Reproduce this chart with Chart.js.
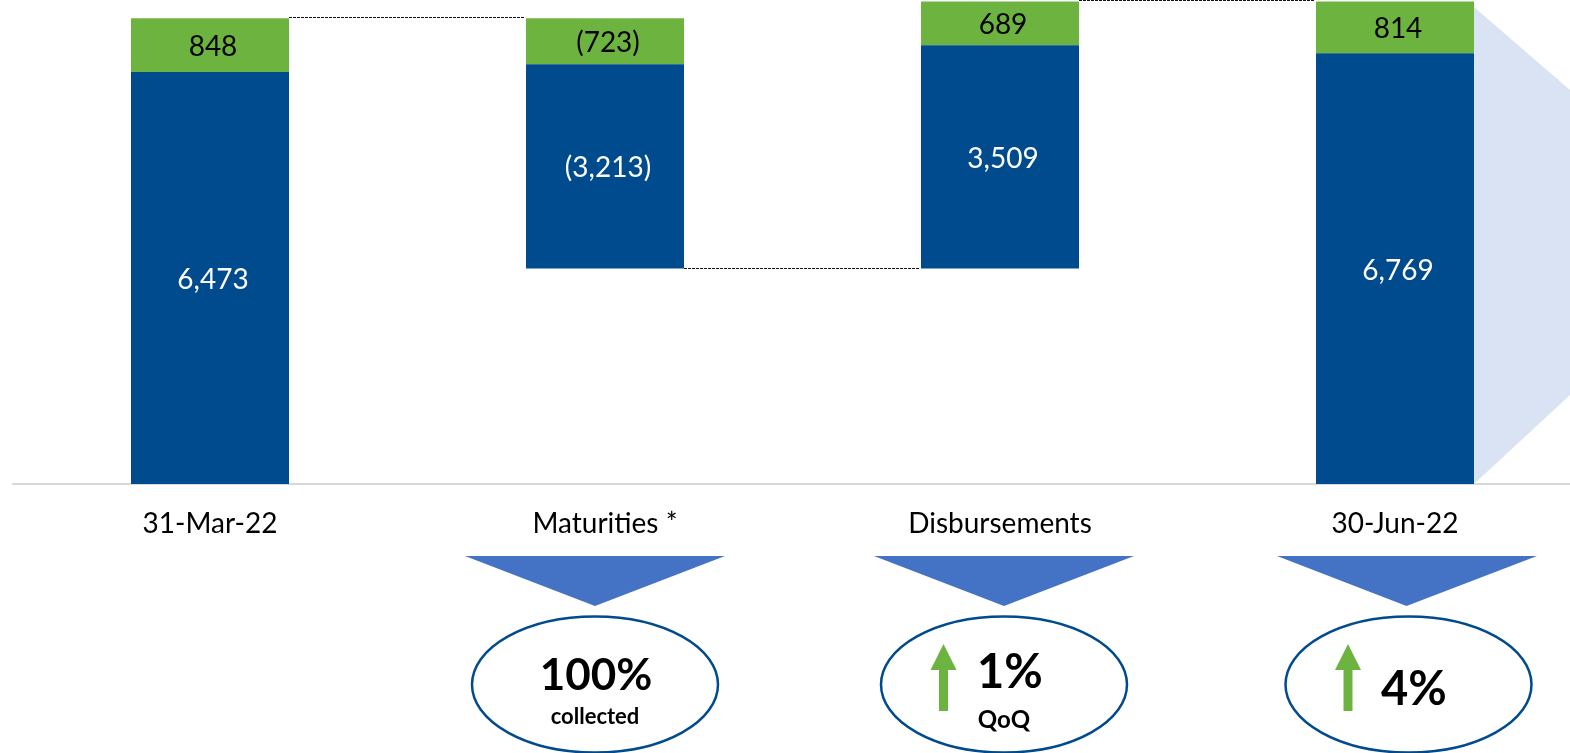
<!DOCTYPE html>
<html>
<head>
<meta charset="utf-8">
<script src="https://cdn.jsdelivr.net/npm/chart.js@4"></script>
<style>
html,body{margin:0;padding:0;background:#fff;overflow:hidden;width:1570px;height:753px}
#wrap{position:absolute;left:0;top:0;width:1600px;height:753px}
</style>
</head>
<body>
<div id="wrap"><canvas id="c" width="1600" height="753"></canvas></div>
<script>
const categories = ['31-Mar-22', 'Maturities *', 'Disbursements', '30-Jun-22'];
const blueValues = [6473, -3213, 3509, 6769];
const greenValues = [848, -723, 689, 814];
const isBalance = [true, false, false, true];

const FONT = 'Lato, Carlito, sans-serif';
const BLUE = '#004b8d', GREEN = '#6db33f';

const blueBars = [], greenBars = [];
let running = 0;
categories.forEach((_, i) => {
  const b = blueValues[i], g = greenValues[i];
  const change = b + g;
  const lo = isBalance[i] ? 0 : Math.min(running, running + change);
  const mid = lo + Math.abs(b);
  blueBars.push([lo, mid]);
  greenBars.push([mid, mid + Math.abs(g)]);
  running = isBalance[i] ? change : running + change;
});

const fmt = v => {
  const s = Math.abs(v).toLocaleString('en-US');
  return v < 0 ? '(' + s + ')' : s;
};

const overlay = {
  id: 'overlay',
  beforeDatasetsDraw(chart) {
    const ctx = chart.ctx, y = chart.scales.y;
    const last = chart.getDatasetMeta(0).data[3];
    const right = last.x + last.width / 2;
    ctx.save();
    ctx.fillStyle = '#dae3f3';
    ctx.beginPath();
    ctx.moveTo(right, 7);
    ctx.lineTo(1570, 90);
    ctx.lineTo(1570, 395);
    ctx.lineTo(right, y.getPixelForValue(0));
    ctx.closePath();
    ctx.fill();
    ctx.restore();
  },
  afterDatasetsDraw(chart) {
    const ctx = chart.ctx, y = chart.scales.y;
    const mb = chart.getDatasetMeta(0).data, mg = chart.getDatasetMeta(1).data;
    ctx.save();

    // connectors between bars
    ctx.strokeStyle = '#111';
    ctx.lineWidth = 1;
    ctx.setLineDash([3, 1]);
    const levels = [greenBars[0][1], blueBars[1][0], greenBars[2][1]];
    levels.forEach((lv, i) => {
      const py = Math.round(y.getPixelForValue(lv)) - 0.5;
      ctx.beginPath();
      ctx.moveTo(mb[i].x + mb[i].width / 2, py);
      ctx.lineTo(mb[i + 1].x - mb[i + 1].width / 2 - 2, py);
      ctx.stroke();
    });
    ctx.setLineDash([]);

    // value labels
    ctx.textAlign = 'center';
    ctx.textBaseline = 'middle';
    ctx.font = '28px ' + FONT;
    categories.forEach((_, i) => {
      ctx.fillStyle = '#fff';
      ctx.fillText(fmt(blueValues[i]), mb[i].x + 3, (y.getPixelForValue(blueBars[i][0]) + y.getPixelForValue(blueBars[i][1])) / 2 + 2);
      ctx.fillStyle = '#000';
      ctx.fillText(fmt(greenValues[i]), mg[i].x + 3, (y.getPixelForValue(greenBars[i][0]) + y.getPixelForValue(greenBars[i][1])) / 2 + 2);
    });

    // callouts
    const callouts = [
      {tx: 465, ax: 595, ex: 595, arrow: null},
      {tx: 874, ax: 1004, ex: 1004, arrow: 943.5},
      {tx: 1277, ax: 1406.5, ex: 1408.5, arrow: 1348}
    ];
    callouts.forEach(c => {
      ctx.fillStyle = '#4472c4';
      ctx.beginPath();
      ctx.moveTo(c.tx, 556);
      ctx.lineTo(c.tx + 260, 556);
      ctx.lineTo(c.ax, 606);
      ctx.closePath();
      ctx.fill();

      ctx.strokeStyle = BLUE;
      ctx.lineWidth = 2.5;
      ctx.beginPath();
      ctx.ellipse(c.ex, 684.5, 123, 68, 0, 0, Math.PI * 2);
      ctx.stroke();

      if (c.arrow) {
        ctx.fillStyle = GREEN;
        ctx.beginPath();
        ctx.moveTo(c.arrow, 644);
        ctx.lineTo(c.arrow + 13, 670);
        ctx.lineTo(c.arrow + 4.5, 670);
        ctx.lineTo(c.arrow + 4.5, 711);
        ctx.lineTo(c.arrow - 4.5, 711);
        ctx.lineTo(c.arrow - 4.5, 670);
        ctx.lineTo(c.arrow - 13, 670);
        ctx.closePath();
        ctx.fill();
      }
    });

    ctx.fillStyle = '#000';
    ctx.font = 'bold 44px ' + FONT;
    ctx.fillText('100%', 596, 676);
    ctx.font = 'bold 47px ' + FONT;
    ctx.fillText('1%', 1010, 673);
    ctx.fillText('4%', 1414, 690);
    ctx.font = 'bold 22px ' + FONT;
    ctx.fillText('collected', 595, 717);
    ctx.font = 'bold 24px ' + FONT;
    ctx.fillText('QoQ', 1004, 720);
    ctx.restore();
  }
};

new Chart(document.getElementById('c'), {
  type: 'bar',
  data: {
    labels: categories,
    datasets: [
      {label: 'Blue', data: blueBars, backgroundColor: BLUE, grouped: false, barPercentage: 0.4, categoryPercentage: 1},
      {label: 'Green', data: greenBars, backgroundColor: GREEN, grouped: false, barPercentage: 0.4, categoryPercentage: 1}
    ]
  },
  options: {
    responsive: false,
    animation: false,
    events: [],
    layout: {padding: {left: 12.5, right: 7.5, top: 0, bottom: 0}},
    plugins: {legend: {display: false}, tooltip: {enabled: false}},
    scales: {
      x: {
        afterFit(s) { s.height = 269; },
        grid: {display: false, drawTicks: false},
        border: {display: true, color: '#d9d9d9', width: 2},
        ticks: {color: '#000', font: {family: FONT, size: 28}, padding: 23, maxRotation: 0}
      },
      y: {display: false, min: 0, max: 7606}
    }
  },
  plugins: [overlay]
});
</script>
</body>
</html>
